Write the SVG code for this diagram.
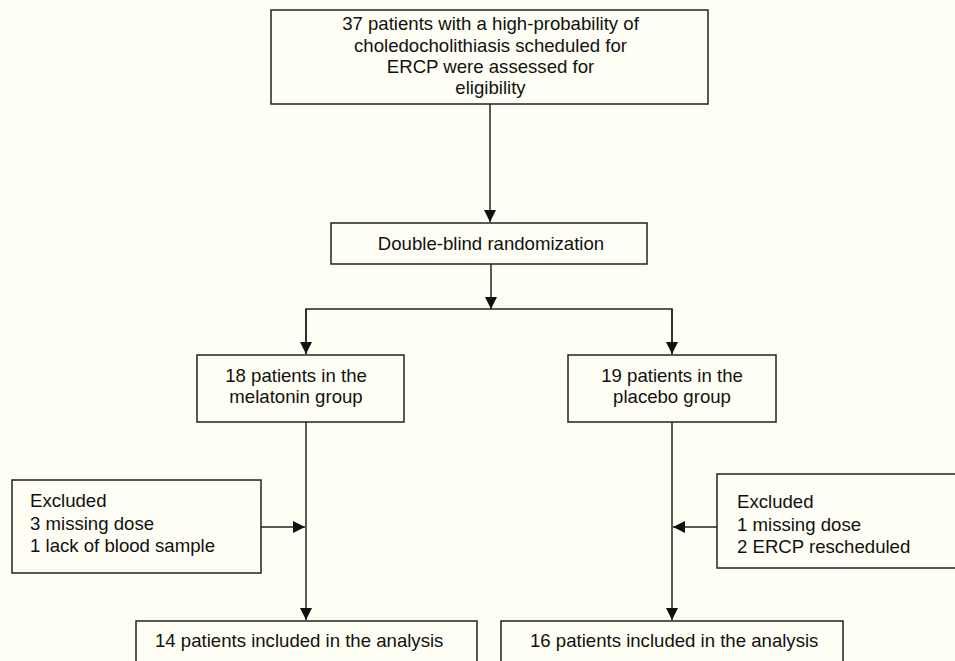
<svg xmlns="http://www.w3.org/2000/svg" width="955" height="661" viewBox="0 0 955 661">
<defs>
<style>
.box{fill:none;stroke:#222;stroke-width:1.5}
.ln{fill:none;stroke:#222;stroke-width:1.5}
text{font-family:"Liberation Sans",Arial,sans-serif;font-size:18.6px;fill:#111}
.c{text-anchor:middle}
</style>
<marker id="ah" markerUnits="userSpaceOnUse" markerWidth="12" markerHeight="12" refX="12" refY="6" orient="auto" viewBox="0 0 12 12">
<path d="M0,0 L12,6 L0,12 z" fill="#111"/>
</marker>
</defs>
<rect width="955" height="661" fill="#fffef4"/>
<g id="connectors">
<line class="ln" x1="490" y1="104" x2="490" y2="222" marker-end="url(#ah)"/>
<line class="ln" x1="491" y1="264" x2="491" y2="309" marker-end="url(#ah)"/>
<polyline class="ln" points="306,354 306,309 672,309 672,354"/>
<line class="ln" x1="306" y1="309" x2="306" y2="354" marker-end="url(#ah)"/>
<line class="ln" x1="672" y1="309" x2="672" y2="354" marker-end="url(#ah)"/>
<line class="ln" x1="306" y1="422" x2="306" y2="620" marker-end="url(#ah)"/>
<line class="ln" x1="672" y1="422" x2="672" y2="620" marker-end="url(#ah)"/>
<line class="ln" x1="261" y1="527" x2="305" y2="527" marker-end="url(#ah)"/>
<line class="ln" x1="717" y1="527" x2="673" y2="527" marker-end="url(#ah)"/>
</g>
<g id="assessed">
<rect class="box" x="271" y="10" width="437" height="94"/>
<text class="c" x="490.5" y="30">37 patients with a high-probability of</text>
<text class="c" x="490.5" y="52">choledocholithiasis scheduled for</text>
<text class="c" x="490.5" y="73">ERCP were assessed for</text>
<text class="c" x="490.5" y="94">eligibility</text>
</g>
<g id="randomization">
<rect class="box" x="331" y="223" width="316" height="41"/>
<text class="c" x="491" y="250">Double-blind randomization</text>
</g>
<g id="melatonin">
<rect class="box" x="197" y="355" width="207" height="67"/>
<text class="c" x="296" y="382">18 patients in the</text>
<text class="c" x="296" y="403">melatonin group</text>
</g>
<g id="placebo">
<rect class="box" x="568" y="355" width="208" height="67"/>
<text class="c" x="672" y="382">19 patients in the</text>
<text class="c" x="672" y="403">placebo group</text>
</g>
<g id="excluded-left">
<rect class="box" x="12" y="480" width="249" height="93"/>
<text x="30" y="507">Excluded</text>
<text x="30" y="530">3 missing dose</text>
<text x="30" y="552">1 lack of blood sample</text>
</g>
<g id="excluded-right">
<rect class="box" x="717" y="474" width="260" height="94"/>
<text x="737" y="508">Excluded</text>
<text x="737" y="531">1 missing dose</text>
<text x="737" y="553">2 ERCP rescheduled</text>
</g>
<g id="analysis-left">
<rect class="box" x="136" y="621" width="341" height="60"/>
<text x="155" y="647">14 patients included in the analysis</text>
</g>
<g id="analysis-right">
<rect class="box" x="501" y="621" width="342" height="60"/>
<text x="530" y="647">16 patients included in the analysis</text>
</g>
</svg>
